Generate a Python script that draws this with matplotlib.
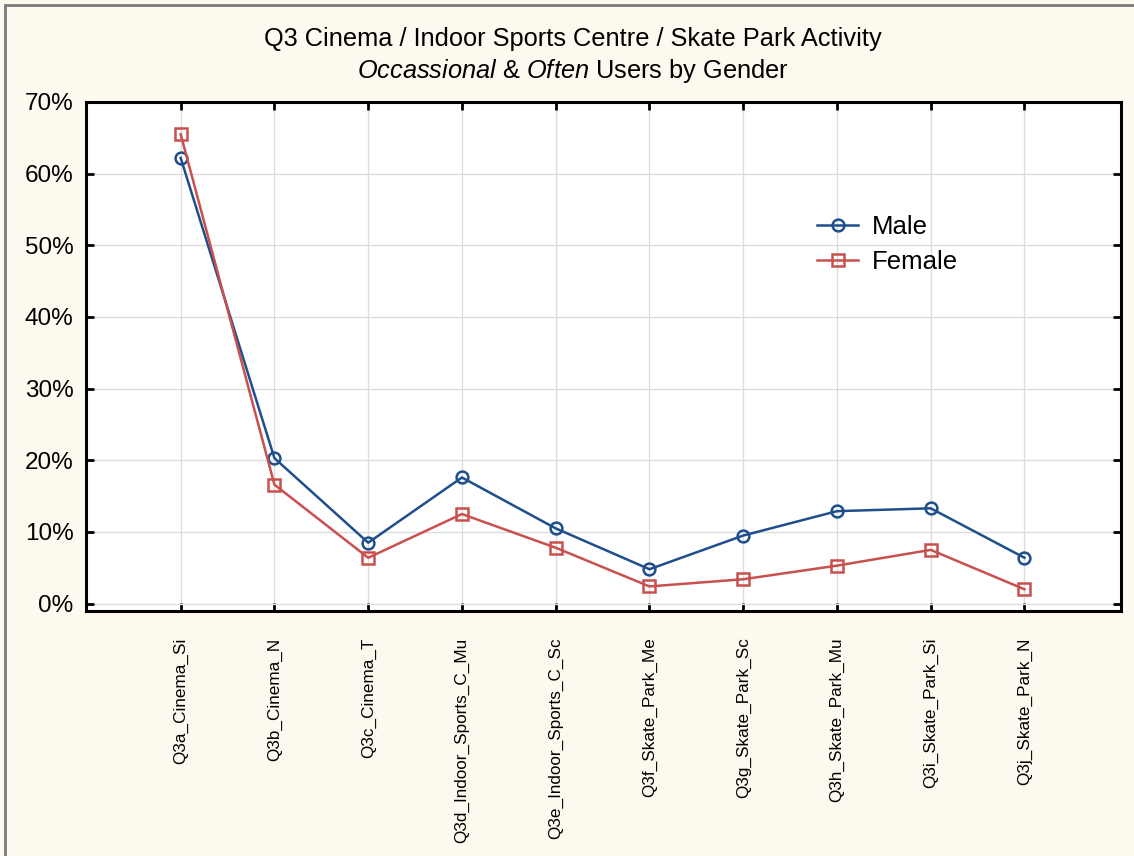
import numpy as np
import matplotlib
matplotlib.use("Agg")
from matplotlib import pyplot as plt
from matplotlib.patches import Rectangle

plt.rcParams['font.family'] = ['Liberation Sans', 'DejaVu Sans']
plt.rcParams['mathtext.fontset'] = 'custom'
plt.rcParams['mathtext.rm'] = 'Liberation Sans'
plt.rcParams['mathtext.it'] = 'Liberation Sans:italic'

# data (percent)
categories = ['Q3a_Cinema_Si', 'Q3b_Cinema_N', 'Q3c_Cinema_T', 'Q3d_Indoor_Sports_C_Mu',
              'Q3e_Indoor_Sports_C_Sc', 'Q3f_Skate_Park_Me', 'Q3g_Skate_Park_Sc',
              'Q3h_Skate_Park_Mu', 'Q3i_Skate_Park_Si', 'Q3j_Skate_Park_N']
male = [62.2, 20.3, 8.5, 17.6, 10.5, 4.8, 9.5, 12.9, 13.3, 6.4]
female = [65.5, 16.6, 6.4, 12.5, 7.8, 2.4, 3.4, 5.3, 7.5, 2.0]
yticks = [0, 10, 20, 30, 40, 50, 60, 70]

fig = plt.figure(figsize=(11.34, 8.56), dpi=100, facecolor='#fdf9ef')
ax = fig.add_axes([86/1134, 1 - 611/856, (1121-86)/1134, (611-102)/856])
ax.set_facecolor('white')

x = np.arange(len(categories))
ax.plot(x, male, color='#1f4e8c', lw=1.8, marker='o', ms=8.5, mfc='none', mew=1.8, label='Male')
ax.plot(x, female, color='#c8504d', lw=1.8, marker='s', ms=8.5, mfc='none', mew=1.8, label='Female')

ax.set_xlim(-1.01, 10.03)
ax.set_ylim(-1.03, 70)
ax.set_xticks(x)
ax.set_xticklabels(categories, rotation=90, fontsize=12.3)
ax.set_yticks(yticks)
ax.set_yticklabels([f'{v}%' for v in yticks], fontsize=17.5)
ax.grid(True, color='#dcdcdc', lw=1)
ax.set_axisbelow(True)
ax.tick_params(axis='both', direction='in', length=6, width=2, top=True, right=True)
ax.tick_params(axis='x', pad=19)
ax.tick_params(axis='y', pad=9)
for s in ax.spines.values():
    s.set_linewidth(2.2)
    s.set_color('black')

ax.legend(loc='upper left', bbox_to_anchor=(0.684, 0.824), frameon=False, fontsize=18.5,
          handlelength=1.6, handletextpad=0.55, labelspacing=0.42)

fig.text(573/1134, 1 - 39/856, 'Q3 Cinema / Indoor Sports Centre / Skate Park Activity',
         ha='center', va='center', fontsize=18.3)
fig.text(573/1134, 1 - 71/856, r'$\it{Occassional}$ & $\it{Often}$ Users by Gender',
         ha='center', va='center', fontsize=18.3)

fig.patches.append(Rectangle((5/1134, -0.01), 1.02, 1 - 5/856 + 0.01, transform=fig.transFigure,
                             fill=False, edgecolor='#7a7a7a', lw=2))

fig.savefig('out.png', dpi=100, facecolor=fig.get_facecolor())
